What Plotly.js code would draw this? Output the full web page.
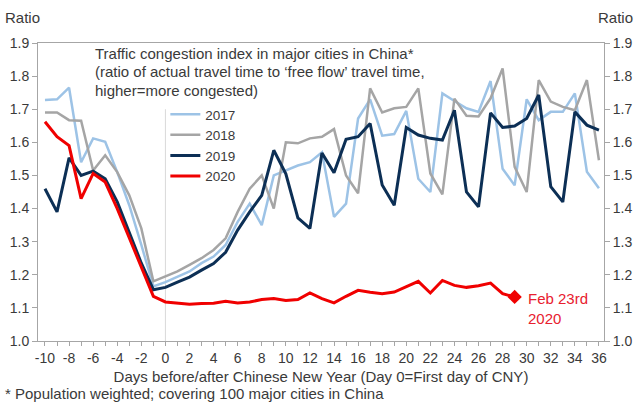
<!DOCTYPE html>
<html>
<head>
<meta charset="utf-8">
<script src="https://cdn.plot.ly/plotly-3.0.1.min.js"></script>
<style>html,body{margin:0;padding:0;background:#fff;}#chart{width:638px;height:403px;}</style>
</head>
<body>
<div id="chart"></div>
<script>
// Days relative to Chinese New Year
const days = [];
for (let d = -10; d <= 36; d++) days.push(d);
const days2020 = days.filter(d => d <= 29);

const seriesNames = ["2017", "2018", "2019", "2020"];

const v2017 = [1.728,1.73,1.765,1.54,1.612,1.602,1.51,1.41,1.29,1.165,
  1.178,1.195,1.21,1.235,1.255,1.29,1.36,1.415,1.35,1.50,
  1.515,1.53,1.54,1.57,1.375,1.415,1.672,1.73,1.62,1.625,
  1.695,1.49,1.45,1.748,1.725,1.703,1.692,1.785,1.52,1.47,
  1.73,1.667,1.692,1.692,1.748,1.511,1.461];

const v2018 = [1.69,1.69,1.667,1.665,1.515,1.561,1.51,1.44,1.34,1.18,
  1.195,1.21,1.23,1.25,1.275,1.31,1.39,1.46,1.50,1.40,
  1.60,1.597,1.612,1.617,1.64,1.50,1.446,1.763,1.69,1.703,
  1.707,1.763,1.506,1.443,1.732,1.68,1.678,1.733,1.823,1.526,
  1.45,1.788,1.723,1.707,1.697,1.788,1.546];

const v2019 = [1.46,1.39,1.553,1.50,1.513,1.49,1.42,1.33,1.235,1.155,
  1.162,1.178,1.193,1.214,1.234,1.268,1.335,1.39,1.44,1.576,
  1.505,1.372,1.34,1.568,1.508,1.609,1.617,1.657,1.471,1.41,
  1.645,1.622,1.612,1.607,1.697,1.45,1.405,1.689,1.645,1.649,
  1.672,1.743,1.466,1.42,1.692,1.652,1.637];

const v2020 = [1.662,1.617,1.59,1.43,1.506,1.48,1.40,1.31,1.22,1.135,
  1.118,1.115,1.111,1.113,1.114,1.12,1.115,1.118,1.125,1.128,
  1.122,1.125,1.145,1.128,1.115,1.135,1.153,1.147,1.143,1.148,
  1.163,1.18,1.145,1.183,1.168,1.162,1.167,1.175,1.143,1.133];

const xTickVals = [];
for (let d = -10; d <= 36; d += 2) xTickVals.push(d);
const xTickText = xTickVals.map(d => String(d));
const yTickVals = [1.0,1.1,1.2,1.3,1.4,1.5,1.6,1.7,1.8,1.9];
const yTickText = yTickVals.map(v => v.toFixed(1));

const colors = ["#9dc3e6", "#a5a5a5", "#0c2f55", "#f00000"];
const widths = [2.5, 2.5, 3, 3];

const FONT = "Liberation Sans, Arial, sans-serif";
const TXT = "#3a3a3a";

const traces = [
  // invisible trace to carry the right-hand axis
  {x: days, y: v2017, yaxis: "y2", type: "scatter", mode: "lines",
   line: {width: 0, color: "rgba(0,0,0,0)"}, showlegend: false, hoverinfo: "skip"},
  {x: days, y: v2017, name: seriesNames[0], type: "scatter", mode: "lines",
   line: {color: colors[0], width: widths[0]}},
  {x: days, y: v2018, name: seriesNames[1], type: "scatter", mode: "lines",
   line: {color: colors[1], width: widths[1]}},
  {x: days, y: v2019, name: seriesNames[2], type: "scatter", mode: "lines",
   line: {color: colors[2], width: widths[2]}},
  {x: days2020, y: v2020, name: seriesNames[3], type: "scatter", mode: "lines",
   line: {color: colors[3], width: widths[3]}},
  {x: [days2020[days2020.length - 1]], y: [v2020[v2020.length - 1]],
   type: "scatter", mode: "markers", showlegend: false,
   marker: {symbol: "diamond", size: 11, color: colors[3]}}
];

const axisLine = "#a6a6a6";

const layout = {
  width: 638, height: 403,
  margin: {l: 38, r: 34, t: 43, b: 62, pad: 0},
  paper_bgcolor: "#ffffff", plot_bgcolor: "#ffffff",
  font: {family: FONT, size: 14, color: TXT},
  showlegend: true,
  legend: {x: 0.225, y: 0.812, xanchor: "left", yanchor: "top",
    bgcolor: "rgba(0,0,0,0)", font: {size: 13.5, color: TXT, family: FONT},
    itemwidth: 30, tracegroupgap: 0},
  xaxis: {
    range: [-10.58, 36.42], tickmode: "array", tickvals: xTickVals, ticktext: xTickText,
    ticks: "outside", ticklen: 4, tickcolor: axisLine,
    minor: {dtick: 1, ticks: "outside", ticklen: 4, tickcolor: axisLine},
    showline: true, linecolor: axisLine, linewidth: 1, mirror: true,
    showgrid: false, zeroline: false,
    tickfont: {size: 14, color: TXT},
    title: {text: "Days before/after Chinese New Year (Day 0=First day of CNY)",
      font: {size: 15, color: TXT}, standoff: 6}
  },
  yaxis: {
    range: [1.0, 1.9], tickmode: "array", tickvals: yTickVals, ticktext: yTickText,
    ticks: "outside", ticklen: 5, tickcolor: axisLine,
    showline: true, linecolor: axisLine, linewidth: 1,
    showgrid: false, zeroline: false, tickfont: {size: 14, color: TXT}
  },
  yaxis2: {
    range: [1.0, 1.9], overlaying: "y", side: "right",
    tickmode: "array", tickvals: yTickVals, ticktext: yTickText,
    ticks: "outside", ticklen: 5, tickcolor: axisLine,
    showline: true, linecolor: axisLine, linewidth: 1,
    showgrid: false, zeroline: false, tickfont: {size: 14, color: TXT}
  },
  shapes: [
    {type: "line", xref: "x", yref: "y", x0: 0, x1: 0, y0: 1.0, y1: 1.7,
     line: {color: "#d9d9d9", width: 1}, layer: "below"}
  ],
  annotations: [
    {xref: "paper", yref: "paper", x: -0.062, y: 1.085, xanchor: "left", yanchor: "middle",
     text: "Ratio", showarrow: false, font: {size: 15, color: TXT}},
    {xref: "paper", yref: "paper", x: 1.055, y: 1.085, xanchor: "right", yanchor: "middle",
     text: "Ratio", showarrow: false, font: {size: 15, color: TXT}},
    {xref: "paper", yref: "paper", x: 0.098, y: 0.965, xanchor: "left", yanchor: "middle",
     text: "Traffic congestion index in major cities in China*", showarrow: false,
     font: {size: 15, color: TXT}},
    {xref: "paper", yref: "paper", x: 0.098, y: 0.903, xanchor: "left", yanchor: "middle",
     text: "(ratio of actual travel time to \u2018free flow\u2019 travel time,", showarrow: false,
     font: {size: 15, color: TXT}},
    {xref: "paper", yref: "paper", x: 0.098, y: 0.841, xanchor: "left", yanchor: "middle",
     text: "higher=more congested)", showarrow: false,
     font: {size: 15, color: TXT}},
    {xref: "paper", yref: "paper", x: 0.863, y: 0.11, xanchor: "left", yanchor: "middle",
     text: "Feb 23rd<br>2020", showarrow: false, align: "left",
     font: {size: 15, color: "#e8202f"}},
    {xref: "paper", yref: "paper", x: -0.062, y: -0.176, xanchor: "left", yanchor: "middle",
     text: "* Population weighted; covering 100 major cities in China", showarrow: false,
     font: {size: 15, color: TXT}}
  ]
};

Plotly.newPlot("chart", traces, layout, {staticPlot: true, displayModeBar: false});
</script>
</body>
</html>
